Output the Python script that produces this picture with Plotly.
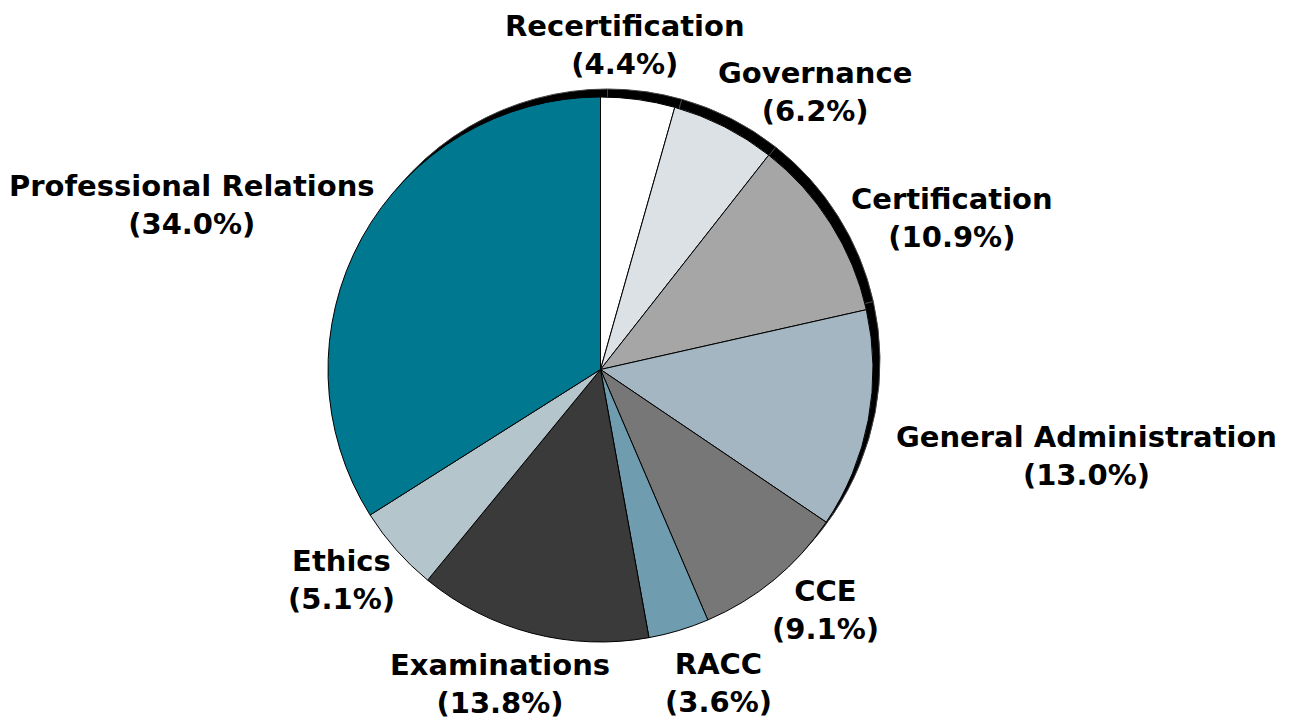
import plotly.graph_objects as go

categories = ["Recertification", "Governance", "Certification", "General Administration",
              "CCE", "RACC", "Examinations", "Ethics", "Professional Relations"]
shares = [4.4, 6.2, 10.9, 13.0, 9.1, 3.6, 13.8, 5.1, 34.0]

colors = ["#ffffff", "#dce1e5", "#a6a6a6", "#a3b6c1", "#777777",
          "#6f9daf", "#3a3a3a", "#b5c5cc", "#007890"]

W, H = 1290, 723
OFF = 8  # page body margin
# pie geometry in page pixels
cx, cy, r = 600.5, 369.5, 272.5
sdx, sdy = 7, -8  # shadow offset


def dom(cx, cy, r):
    cx -= OFF
    cy -= OFF
    return dict(x=[(cx - r) / W, (cx + r) / W], y=[(H - cy - r) / H, (H - cy + r) / H])


# label centres (page pixels)
label_pos = [(625, 45), (815, 92), (952, 218), (1086, 456), (826, 610),
             (718, 683), (500, 684), (341, 580), (192, 205)]

fig = go.Figure()
fig.add_trace(go.Pie(
    values=shares, labels=categories, sort=False, direction="clockwise", rotation=0,
    marker=dict(colors=["#000000"] * len(shares), line=dict(color="#444444", width=1)),
    textinfo="none", hoverinfo="skip", showlegend=False,
    domain=dom(cx + sdx, cy + sdy, r),
))
fig.add_trace(go.Pie(
    values=shares, labels=categories, sort=False, direction="clockwise", rotation=0,
    marker=dict(colors=colors, line=dict(color="#000000", width=1)),
    textinfo="none", showlegend=False,
    domain=dom(cx, cy, r),
))

for cat, v, (px, py) in zip(categories, shares, label_pos):
    fig.add_annotation(
        x=(px - OFF) / W, y=1 - (py - OFF) / H, xref="paper", yref="paper",
        text=f"{cat}<br>({v:.1f}%)", showarrow=False,
        xanchor="center", yanchor="middle",
        font=dict(family="DejaVu Sans", size=29, color="#000000", weight="bold"),
    )

fig.update_layout(
    width=W, height=H, margin=dict(l=0, r=0, t=0, b=0),
    paper_bgcolor="#ffffff", plot_bgcolor="#ffffff",
)
fig.write_html("out.html")
